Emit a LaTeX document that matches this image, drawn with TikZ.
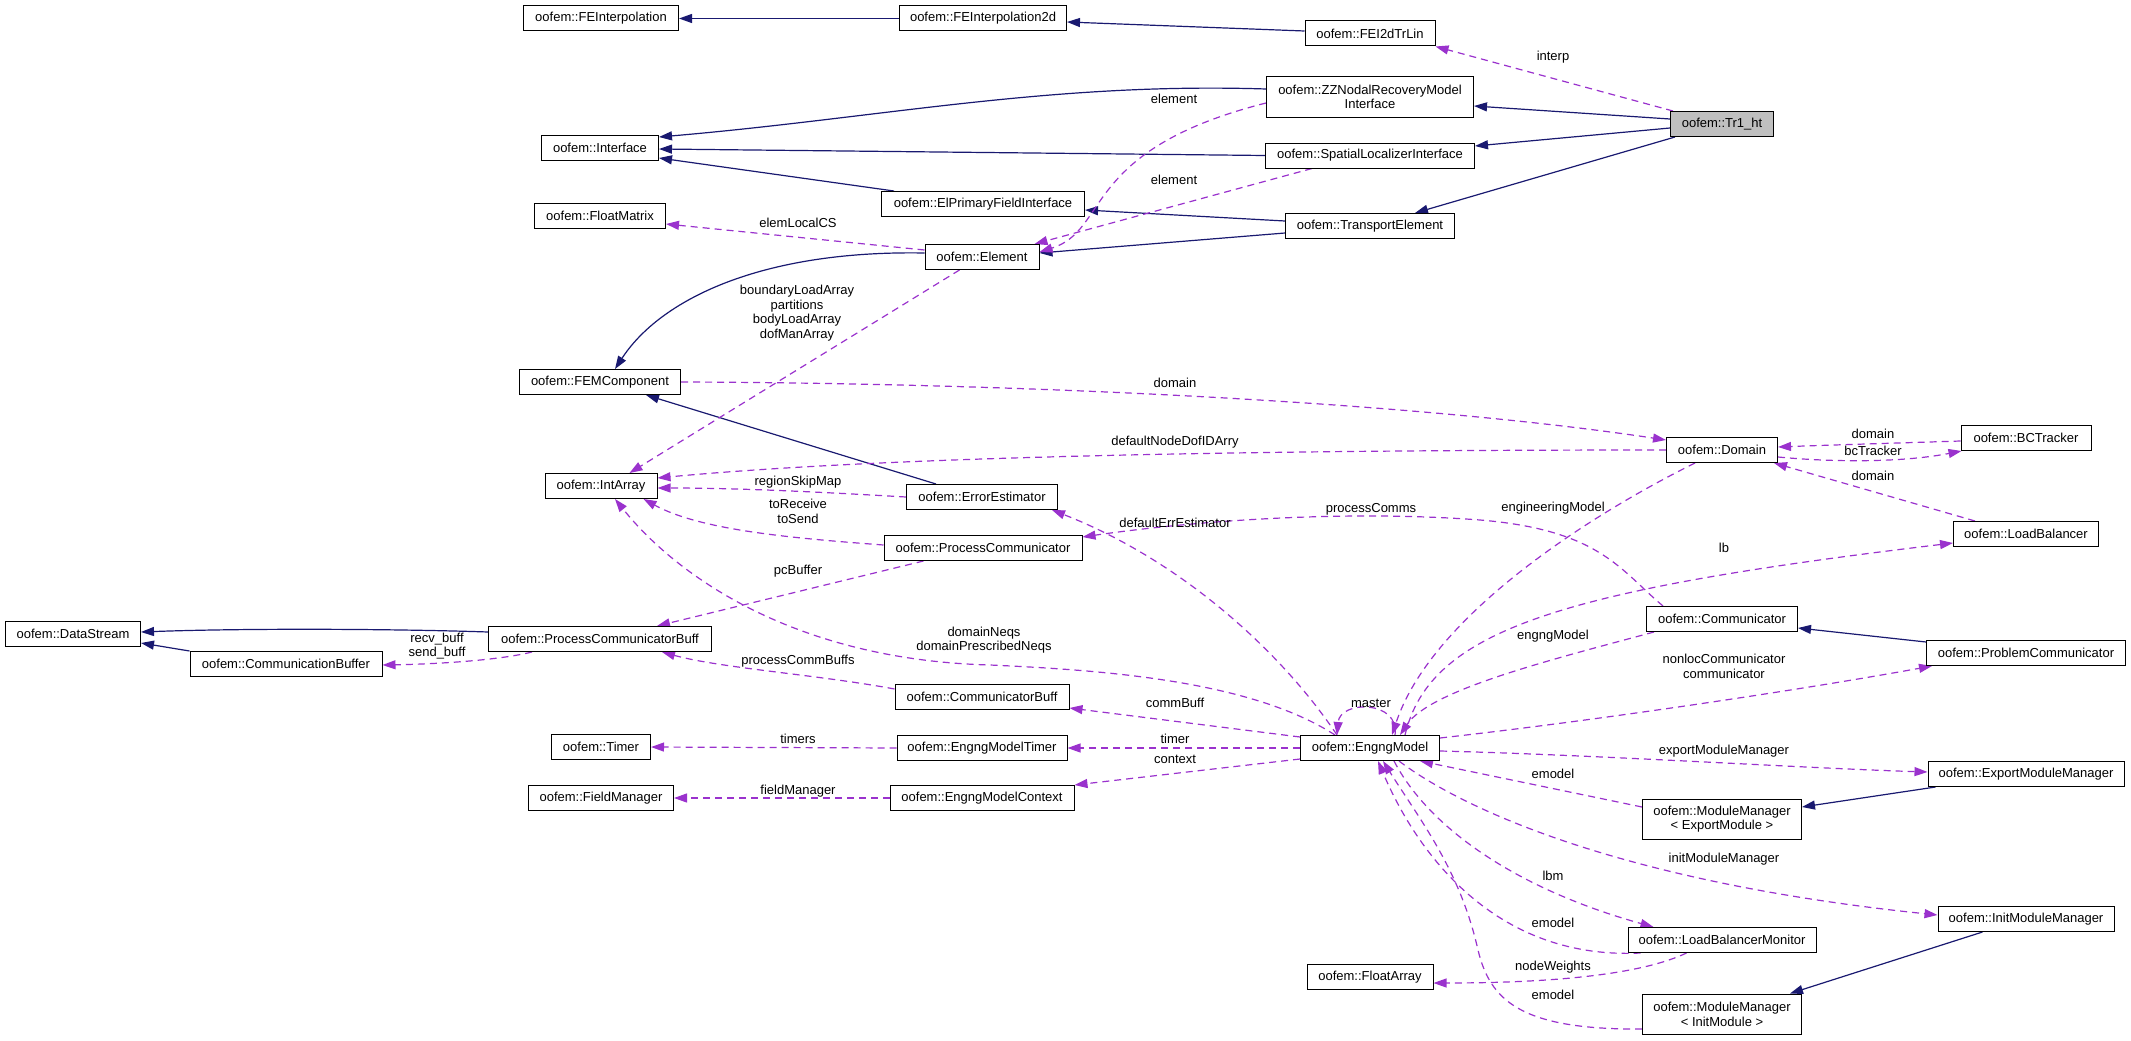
\documentclass[tikz,border=0pt]{standalone}
\usepackage{fontspec}
\setmainfont{Liberation Sans}
\usetikzlibrary{arrows.meta,calc,backgrounds}
\definecolor{inhc}{RGB}{25,25,112}
\definecolor{usec}{RGB}{154,50,205}
\begin{document}
\begin{tikzpicture}[x=1pt,y=-1pt,
  cls/.style={draw=black, line width=1pt, fill=white, inner sep=0pt, minimum height=25pt, align=center, font=\fontsize{13}{14.7}\selectfont},
  cls2/.style={cls, minimum height=40pt},
  inh/.style={draw=inhc, line width=1.2pt, -{Triangle[length=13pt,width=9pt]}},
  use/.style={draw=usec, line width=1.2pt, dash pattern=on 7pt off 5pt, -{Triangle[length=13pt,width=9pt]}},
  lbl/.style={inner sep=0pt, align=center, font=\fontsize{13}{14.7}\selectfont}]
\useasboundingbox (0,0) rectangle (2131,1041);
% classes
\node[cls, minimum width=155pt] (feint) at (601,18.5) {oofem::FEInterpolation};
\node[cls, minimum width=167pt] (feint2d) at (983,18.5) {oofem::FEInterpolation2d};
\node[cls, minimum width=130pt] (fei2d) at (1370,33.5) {oofem::FEI2dTrLin};
\node[cls2, minimum width=207pt] (zz) at (1370,97) {oofem::ZZNodalRecoveryModel\\Interface};
\node[cls, minimum width=209pt] (sli) at (1370,155.5) {oofem::SpatialLocalizerInterface};
\node[cls, minimum width=103pt, fill=black!25] (tr1) at (1722,124) {oofem::Tr1\_ht};
\node[cls, minimum width=117pt] (iface) at (600,148) {oofem::Interface};
\node[cls, minimum width=203pt] (elpfi) at (983,204) {oofem::ElPrimaryFieldInterface};
\node[cls, minimum width=169pt] (trel) at (1370,226) {oofem::TransportElement};
\node[cls, minimum width=131pt] (fmat) at (600,216) {oofem::FloatMatrix};
\node[cls, minimum width=114pt] (elem) at (982,257) {oofem::Element};
\node[cls, minimum width=161pt] (femc) at (600,382) {oofem::FEMComponent};
\node[cls, minimum width=112pt] (intarr) at (601,486) {oofem::IntArray};
\node[cls, minimum width=111pt] (domain) at (1722,450) {oofem::Domain};
\node[cls, minimum width=130pt] (bct) at (2026,438) {oofem::BCTracker};
\node[cls, minimum width=145pt] (lb) at (2026,534) {oofem::LoadBalancer};
\node[cls, minimum width=151pt] (errest) at (982,497) {oofem::ErrorEstimator};
\node[cls, minimum width=198pt] (pcomm) at (983,548) {oofem::ProcessCommunicator};
\node[cls, minimum width=135pt] (dstream) at (73,634) {oofem::DataStream};
\node[cls, minimum width=192pt] (commbuf) at (286,664) {oofem::CommunicationBuffer};
\node[cls, minimum width=223pt] (pcbuff) at (600,639) {oofem::ProcessCommunicatorBuff};
\node[cls, minimum width=151pt] (comm) at (1722,619) {oofem::Communicator};
\node[cls, minimum width=199pt] (probcomm) at (2026,653) {oofem::ProblemCommunicator};
\node[cls, minimum width=174pt] (cbuff) at (982,697) {oofem::CommunicatorBuff};
\node[cls, minimum width=99pt] (timer) at (601,747) {oofem::Timer};
\node[cls, minimum width=170pt] (emtimer) at (982,748) {oofem::EngngModelTimer};
\node[cls, minimum width=139pt] (em) at (1370,748) {oofem::EngngModel};
\node[cls, minimum width=145pt] (fman) at (601,798) {oofem::FieldManager};
\node[cls, minimum width=184pt] (emctx) at (982,798) {oofem::EngngModelContext};
\node[cls, minimum width=196pt] (emm) at (2026,774) {oofem::ExportModuleManager};
\node[cls2, minimum width=159pt] (mmexp) at (1722,819) {oofem::ModuleManager\\< ExportModule >};
\node[cls, minimum width=176pt] (imm) at (2026,919) {oofem::InitModuleManager};
\node[cls, minimum width=188pt] (lbmon) at (1722,940) {oofem::LoadBalancerMonitor};
\node[cls, minimum width=126pt] (farr) at (1370,977) {oofem::FloatArray};
\node[cls2, minimum width=159pt] (mminit) at (1722,1014) {oofem::ModuleManager\\< InitModule >};
% labels
\node[lbl] (l1) at (1553,57) {interp};
\node[lbl] (l2) at (1174,99) {element};
\node[lbl] (l3) at (1174,180) {element};
\node[lbl] (l4) at (798,223) {elemLocalCS};
\node[lbl] (l5) at (797,313) {boundaryLoadArray\\partitions\\bodyLoadArray\\dofManArray};
\node[lbl] (l6) at (1175,383) {domain};
\node[lbl] (l7) at (1175,442) {defaultNodeDofIDArry};
\node[lbl] (l8) at (798,482) {regionSkipMap};
\node[lbl] (l9) at (798,511.5) {toReceive\\toSend};
\node[lbl] (l10) at (1175,523) {defaultErrEstimator};
\node[lbl] (l11) at (1371,509) {processComms};
\node[lbl] (l12) at (1873,434) {domain};
\node[lbl] (l13) at (1873,451) {bcTracker};
\node[lbl] (l14) at (1873,476) {domain};
\node[lbl] (l15) at (1553,508) {engineeringModel};
\node[lbl] (l16) at (1724,548) {lb};
\node[lbl] (l17) at (798,571) {pcBuffer};
\node[lbl] (l18) at (984,640) {domainNeqs\\domainPrescribedNeqs};
\node[lbl] (l19) at (437,646) {recv\_buff\\send\_buff};
\node[lbl] (l20) at (798,661) {processCommBuffs};
\node[lbl] (l21) at (1553,636) {engngModel};
\node[lbl] (l22) at (1724,666.5) {nonlocCommunicator\\communicator};
\node[lbl] (l23) at (1175,703) {commBuff};
\node[lbl] (l24) at (1371,703) {master};
\node[lbl] (l25) at (798,739) {timers};
\node[lbl] (l26) at (1175,739) {timer};
\node[lbl] (l27) at (1175,759) {context};
\node[lbl] (l28) at (798,791) {fieldManager};
\node[lbl] (l29) at (1724,751) {exportModuleManager};
\node[lbl] (l30) at (1553,774) {emodel};
\node[lbl] (l31) at (1724,859) {initModuleManager};
\node[lbl] (l32) at (1553,876) {lbm};
\node[lbl] (l33) at (1553,923) {emodel};
\node[lbl] (l34) at (1553,967) {nodeWeights};
\node[lbl] (l35) at (1553,995) {emodel};
\begin{pgfonlayer}{background}
% inheritance
\draw[inh] (feint2d.west) -- (feint.east);
\draw[inh] ($(fei2d.west)+(0,-2.5)$) -- ($(feint2d.east)+(0,3.5)$);
\draw[inh] ($(zz.west)+(0,-8)$) .. controls (1050,82) and (880,118) .. ($(iface.east)+(0,-11)$);
\draw[inh] (sli.west) -- ($(iface.east)+(0,1)$);
\draw[inh] ($(elpfi.north west)+(13,0)$) -- ($(iface.east)+(0,10)$);
\draw[inh] ($(tr1.west)+(0,-5)$) -- ($(zz.east)+(0,9)$);
\draw[inh] ($(tr1.west)+(0,4)$) -- ($(sli.east)+(0,-9.5)$);
\draw[inh] ($(tr1.south west)+(5,0)$) -- ($(trel.north east)+(-40,0)$);
\draw[inh] ($(trel.west)+(0,-5)$) -- ($(elpfi.east)+(0,6)$);
\draw[inh] ($(trel.west)+(0,7)$) -- ($(elem.east)+(0,-4)$);
\draw[inh] ($(elem.west)+(0,-4)$) .. controls (760,250) and (660,300) .. ($(femc.north)+(15,0)$);
\draw[inh] ($(errest.north west)+(30,0)$) -- ($(femc.south east)+(-35,0)$);
\draw[inh] ($(pcbuff.west)+(0,-7)$) .. controls (400,629) and (250,628) .. ($(dstream.east)+(0,-2)$);
\draw[inh] (commbuf.north west) -- ($(dstream.east)+(0,9)$);
\draw[inh] ($(probcomm.west)+(0,-11)$) -- ($(comm.east)+(0,9)$);
\draw[inh] ($(emm.south west)+(8,0)$) -- ($(mmexp.east)+(0,-12)$);
\draw[inh] ($(imm.south west)+(45,0)$) -- ($(mminit.north east)+(-12,0)$);
% usage
\draw[use] ($(tr1.north west)+(3,0)$) -- (fei2d.south east);
\draw[use] ($(zz.west)+(0,6)$) .. controls (1080,150) and (1110,230) .. ($(elem.east)+(0,-5)$);
\draw[use] ($(sli.south)+(-58,0)$) -- ($(elem.north east)+(-5,0)$);
\draw[use] ($(elem.west)+(0,-7)$) -- ($(fmat.east)+(0,8)$);
\draw[use] ($(elem.south west)+(35,0)$) -- ($(intarr.north east)+(-28,0)$);
\draw[use] (femc.east) .. controls (1000,383) and (1400,400) .. ($(domain.west)+(0,-10)$);
\draw[use] (domain.west) .. controls (1300,450) and (900,455) .. ($(intarr.east)+(0,-8)$);
\draw[use] (errest.west) .. controls (820,492) and (740,488) .. ($(intarr.east)+(0,2)$);
\draw[use] ($(pcomm.west)+(0,-3)$) .. controls (790,538) and (700,530) .. ($(intarr.south east)+(-14,0)$);
\draw[use] ($(em.north west)+(35,0)$) .. controls (1250,680) and (1100,670) .. (990,665) .. controls (800,660) and (680,580) .. ($(intarr.south)+(14,0)$);
\draw[use] ($(bct.west)+(0,3)$) .. controls (1900,443) and (1830,445) .. ($(domain.east)+(0,-3)$);
\draw[use] ($(domain.east)+(0,7)$) .. controls (1830,462) and (1900,463) .. ($(bct.south west)+(1,0)$);
\draw[use] ($(lb.north west)+(22,0)$) -- ($(domain.south east)+(-4,0)$);
\draw[use] ($(domain.south)+(-27,0)$) .. controls (1580,520) and (1430,620) .. ($(em.north east)+(-48,0)$);
\draw[use] ($(comm.north west)+(17,0)$) .. controls (1620,570) and (1600,530) .. (1480,520) .. controls (1350,510) and (1200,520) .. ($(pcomm.east)+(0,-11)$);
\draw[use] ($(em.north west)+(37,0)$) .. controls (1280,650) and (1180,560) .. ($(errest.south east)+(-6,0)$);
\draw[use] ($(pcomm.south west)+(40,0)$) -- ($(pcbuff.north east)+(-55,0)$);
\draw[use] ($(pcbuff.south west)+(44,0)$) .. controls (500,660) and (440,664) .. ($(commbuf.east)+(0,1)$);
\draw[use] ($(cbuff.west)+(0,-8)$) .. controls (820,675) and (720,668) .. ($(pcbuff.south east)+(-50,0)$);
\draw[use] ($(em.north east)+(-35,0)$) .. controls (1430,630) and (1560,590) .. ($(lb.west)+(0,9)$);
\draw[use] ($(comm.south west)+(8,0)$) .. controls (1550,660) and (1430,690) .. ($(em.north east)+(-40,0)$);
\draw[use] ($(em.north east)+(0,3)$) .. controls (1600,720) and (1800,690) .. ($(probcomm.south west)+(6,0)$);
\draw[use] ($(em.north)+(25,0)$) .. controls (1400,700) and (1340,700) .. ($(em.north)+(-33,0)$);
\draw[use] ($(em.west)+(0,-11)$) -- ($(cbuff.east)+(0,11)$);
\draw[use] (em.west) -- (emtimer.east);
\draw[use] (emtimer.west) -- (timer.east);
\draw[use] ($(em.west)+(0,11)$) -- (emctx.north east);
\draw[use] (emctx.west) -- (fman.east);
\draw[use] ($(em.east)+(0,3)$) .. controls (1600,755) and (1800,768) .. ($(emm.west)+(0,-2)$);
\draw[use] ($(mmexp.west)+(0,-12)$) -- ($(em.south east)+(-20,0)$);
\draw[use] ($(em.south)+(29,0)$) .. controls (1450,800) and (1600,880) .. ($(imm.west)+(0,-4)$);
\draw[use] ($(em.south)+(24,0)$) .. controls (1430,830) and (1520,890) .. ($(lbmon.north west)+(26,0)$);
\draw[use] ($(lbmon.south west)+(13,0)$) .. controls (1500,960) and (1420,860) .. ($(em.south)+(8,0)$);
\draw[use] ($(lbmon.south west)+(59,0)$) .. controls (1640,975) and (1550,983) .. ($(farr.east)+(0,6)$);
\draw[use] ($(mminit.west)+(0,15)$) .. controls (1520,1030) and (1490,1000) .. (1478,950) .. controls (1460,870) and (1420,820) .. ($(em.south)+(13,0)$);
\end{pgfonlayer}
\end{tikzpicture}
\end{document}
